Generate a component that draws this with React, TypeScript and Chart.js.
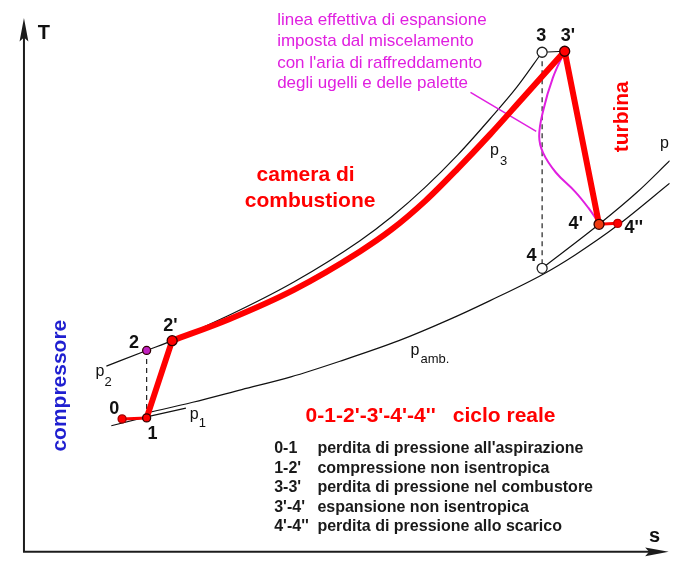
import React, { useEffect, useRef } from "react";
import { Chart, registerables } from "chart.js";

Chart.register(...registerables);

const FONT = '"Liberation Sans", Arial, Helvetica, sans-serif';

// ---- state points of the real gas-turbine cycle (entropy s, temperature T; schematic units) ----
const stateLabels = ["0", "1", "2", "2'", "3", "3'", "4", "4'", "4''"];
const stateS = [118, 143, 143, 169, 546, 569, 546, 604, 623];
const stateT = [143, 144, 213, 223, 518, 519, 297, 342, 343];

// ---- isobars ----
const p2S = [102, 143, 169, 227, 293, 360, 393, 427, 460, 493, 520, 546];
const p2T = [197, 213, 223, 249, 283, 325, 350, 380, 413, 450, 482, 518];

const p3S = [169, 227, 293, 360, 393, 427, 460, 493, 527, 569];
const p3T = [223, 245, 275, 314, 337, 366, 399, 434, 472, 519];

const p1S = [107, 143, 183];
const p1T = [136, 145, 154];

const pAmbS = [143, 190, 240, 290, 340, 400, 450, 493, 547, 580, 623, 676];
const pAmbT = [149, 160, 173, 186, 202, 223, 244, 264, 291, 311, 341, 384];

const p4S = [546, 604, 643, 676];
const p4T = [297, 342, 375, 407];

// ---- real expansion line (mixing with cooling air) ----
const coolS = [569, 557, 547, 543, 547, 560, 580, 593, 604];
const coolT = [519, 492, 458, 432, 415, 395, 375, 359, 343];

// ---- leader line from the note to the expansion line ----
const leaderS = [473, 540];
const leaderT = [477, 437];

// ---- process segments (indices into state arrays) ----
const intakeLoss = [0, 1];
const compression = [1, 3];
const expansion = [5, 7];
const exhaustLoss = [7, 8];
const combustorLoss = [4, 5];
const isentropicComp = [1, 2];
const isentropicExp = [4, 6];

// ---- texts ----
const noteLines = [
  "linea effettiva di espansione",
  "imposta dal miscelamento",
  "con l'aria di raffreddamento",
  "degli ugelli e delle palette",
];
const legendCodes = ["0-1", "1-2'", "3-3'", "3'-4'", "4'-4''"];
const legendTexts = [
  "perdita di pressione all'aspirazione",
  "compressione non isentropica",
  "perdita di pressione nel combustore",
  "espansione non isentropica",
  "perdita di pressione allo scarico",
];

const RED = "#ff0000";
const MAGENTA = "#e020e0";

const pts = (s: number[], t: number[]) => s.map((x, i) => ({ x, y: t[i] }));
const seg = (idx: number[]) => idx.map((i) => ({ x: stateS[i], y: stateT[i] }));

function lineDs(label: string, data: any[], color: string, width: number, extra: any = {}) {
  return {
    label,
    data,
    showLine: true,
    borderColor: color,
    backgroundColor: color,
    borderWidth: width,
    pointRadius: 0,
    pointHoverRadius: 0,
    fill: false,
    ...extra,
  };
}

const smooth = { cubicInterpolationMode: "monotone" };

const diagramPlugin = {
  id: "diagram",
  beforeDatasetsDraw(chart: any) {
    const ctx = chart.ctx as CanvasRenderingContext2D;
    const xs = chart.scales.x;
    const ys = chart.scales.y;
    const X = (v: number) => xs.getPixelForValue(v);
    const Y = (v: number) => ys.getPixelForValue(v);
    ctx.save();
    ctx.strokeStyle = "#1c1c1c";
    ctx.fillStyle = "#1c1c1c";
    ctx.lineWidth = 2;
    // T axis
    ctx.beginPath();
    ctx.moveTo(X(18), Y(7));
    ctx.lineTo(X(18), Y(535));
    ctx.stroke();
    ctx.beginPath();
    ctx.moveTo(X(18), Y(553));
    ctx.lineTo(X(13.5), Y(529));
    ctx.lineTo(X(18), Y(533));
    ctx.lineTo(X(22.5), Y(529));
    ctx.closePath();
    ctx.fill();
    // s axis
    ctx.beginPath();
    ctx.moveTo(X(17), Y(7));
    ctx.lineTo(X(655), Y(7));
    ctx.stroke();
    ctx.beginPath();
    ctx.moveTo(X(675), Y(7));
    ctx.lineTo(X(651), Y(11.5));
    ctx.lineTo(X(655), Y(7));
    ctx.lineTo(X(651), Y(2.5));
    ctx.closePath();
    ctx.fill();
    ctx.restore();
  },
  afterDatasetsDraw(chart: any) {
    const ctx = chart.ctx as CanvasRenderingContext2D;
    const xs = chart.scales.x;
    const ys = chart.scales.y;
    const X = (v: number) => xs.getPixelForValue(v);
    const Y = (v: number) => ys.getPixelForValue(v);
    const text = (
      str: string,
      s: number,
      t: number,
      font: string,
      color: string,
      align: CanvasTextAlign = "left",
      rot = 0
    ) => {
      ctx.save();
      ctx.font = font;
      ctx.fillStyle = color;
      ctx.textAlign = align;
      ctx.textBaseline = "alphabetic";
      ctx.translate(X(s), Y(t));
      if (rot) ctx.rotate(rot);
      ctx.fillText(str, 0, 0);
      ctx.restore();
    };
    const num = `bold 18px ${FONT}`;
    const black = "#111";
    // axis names
    text("T", 32, 532, `bold 20px ${FONT}`, black);
    text("s", 655, 17, `bold 20px ${FONT}`, black);
    // state labels
    const labelPos: [number, number][] = [
      [105, 148],
      [144, 122],
      [125, 216],
      [160, 233],
      [540, 530],
      [565, 530],
      [530, 305],
      [573, 337],
      [630, 333],
    ];
    stateLabels.forEach((l, i) => text(l, labelPos[i][0], labelPos[i][1], num, black));
    // isobar labels
    const pf = `16px ${FONT}`;
    const sf = `13px ${FONT}`;
    text("p", 91, 187, pf, black);
    text("2", 100, 177, sf, black);
    text("p", 187, 143, pf, black);
    text("1", 196, 135, sf, black);
    text("p", 493, 413, pf, black);
    text("3", 503, 403, sf, black);
    text("p", 412, 208, pf, black);
    text("amb.", 422, 200, sf, black);
    text("p", 666, 420, pf, black);
    // note
    const nf = `17px ${FONT}`;
    const noteT = [546, 524, 502, 481];
    noteLines.forEach((l, i) => text(l, 276, noteT[i], nf, MAGENTA));
    // section names
    const bf = `bold 21px ${FONT}`;
    text("camera di", 255, 386, bf, RED);
    text("combustione", 243, 360, bf, RED);
    text("turbina", 633, 452, bf, RED, "center", -Math.PI / 2);
    text("compressore", 61, 177, bf, "#1f1fd0", "center", -Math.PI / 2);
    // title
    text("0-1-2'-3'-4'-4''", 305, 140, bf, RED);
    text("ciclo reale", 455, 140, bf, RED);
    // legend
    const lf = `bold 16px ${FONT}`;
    const rowT = [108, 88, 68, 48, 28];
    legendCodes.forEach((c, i) => text(c, 273, rowT[i], lf, "#1a1a1a"));
    legendTexts.forEach((c, i) => text(c, 317, rowT[i], lf, "#1a1a1a"));
  },
};

export default function App() {
  const ref = useRef<HTMLCanvasElement>(null);
  useEffect(() => {
    const canvas = ref.current;
    if (!canvas) return;
    const pointFill = [RED, RED, "#c020c0", RED, "#ffffff", RED, "#ffffff", "#ee3a10", RED];
    const pointBorder = ["#a00000", "#300000", "#300000", "#300000", "#222", "#300000", "#222", "#300000", "#c00000"];
    const pointRadius = [4, 4, 4, 5, 5, 5, 5, 5, 4];
    const datasets: any[] = [
      {
        label: "stati",
        data: pts(stateS, stateT),
        showLine: false,
        pointRadius,
        pointHoverRadius: pointRadius,
        pointBackgroundColor: pointFill,
        pointBorderColor: pointBorder,
        pointBorderWidth: 1.3,
        order: 0,
      },
      lineDs("combustione p3", pts(p3S, p3T), RED, 6, { order: 1, ...smooth, borderCapStyle: "round", borderJoinStyle: "round" }),
      lineDs("compressione", seg(compression), RED, 6, { order: 1, borderCapStyle: "round" }),
      lineDs("espansione", seg(expansion), RED, 6, { order: 1, borderCapStyle: "round" }),
      lineDs("aspirazione", seg(intakeLoss), RED, 3, { order: 1 }),
      lineDs("scarico", seg(exhaustLoss), RED, 3, { order: 1 }),
      lineDs("espansione effettiva", pts(coolS, coolT), MAGENTA, 2, { order: 2, tension: 0.4 }),
      lineDs("richiamo", pts(leaderS, leaderT), MAGENTA, 1.5, { order: 2 }),
      lineDs("p2", pts(p2S, p2T), "#111", 1.2, { order: 3, ...smooth }),
      lineDs("p1", pts(p1S, p1T), "#111", 1.2, { order: 3 }),
      lineDs("pamb", pts(pAmbS, pAmbT), "#111", 1.2, { order: 3, ...smooth }),
      lineDs("p4", pts(p4S, p4T), "#111", 1.2, { order: 3, ...smooth }),
      lineDs("3-3'", seg(combustorLoss), "#111", 1.2, { order: 3 }),
      lineDs("1-2 isentropica", seg(isentropicComp), "#222", 1.2, { order: 3, borderDash: [5, 4] }),
      lineDs("3-4 isentropica", seg(isentropicExp), "#222", 1.2, { order: 3, borderDash: [5, 4] }),
    ];
    const chart = new Chart(canvas, {
      type: "scatter",
      data: { datasets },
      options: {
        responsive: false,
        animation: false,
        events: [],
        layout: { padding: 0 },
        plugins: { legend: { display: false }, tooltip: { enabled: false } },
        scales: {
          x: { type: "linear", min: 0, max: 676, display: false },
          y: { type: "linear", min: 0, max: 565, display: false },
        },
      },
      plugins: [diagramPlugin],
    } as any);
    return () => chart.destroy();
  }, []);
  return (
    <div style={{ position: "fixed", left: 0, top: 0, width: 676, height: 565, background: "#fff" }}>
      <canvas ref={ref} width={676} height={565} style={{ display: "block", width: 676, height: 565 }} />
    </div>
  );
}
